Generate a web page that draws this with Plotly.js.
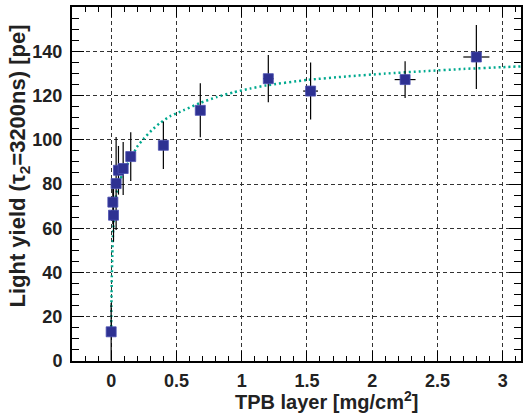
<!DOCTYPE html>
<html>
<head>
<meta charset="utf-8">
<script src="https://cdn.plot.ly/plotly-3.0.1.min.js"></script>
<style>
html,body{margin:0;padding:0;background:#fff;}
#chart{width:523px;height:415px;}
</style>
</head>
<body>
<div id="chart"></div>
<script>
// Measured points: TPB layer thickness [mg/cm2] vs light yield [pe]
const tpbLayer = [0, 0.013, 0.018, 0.038, 0.056, 0.092, 0.150, 0.400, 0.683, 1.204, 1.528, 2.252, 2.798];
const lightYield = [13.2, 71.8, 65.9, 80.2, 86.2, 87.0, 92.4, 97.5, 113.3, 127.6, 122.0, 127.2, 137.4];
const yieldErr = [13, 10, 12, 21, 11, 12, 11, 10.7, 12.2, 10.7, 12.9, 8.3, 14.5];
const layerErr = [0.003, 0.003, 0.003, 0.004, 0.005, 0.006, 0.008, 0.015, 0.025, 0.04, 0.057, 0.08, 0.1];

// Fit curve
const fitX = [0, 0.002, 0.005, 0.009, 0.013, 0.025, 0.036, 0.051, 0.069, 0.087, 0.12, 0.158, 0.197, 0.25, 0.311, 0.375, 0.451, 0.553, 0.681, 0.809, 0.936, 1.063, 1.191, 1.5, 1.8, 2.1, 2.4, 2.7, 3.0, 3.15];
const fitY = [13, 25, 38, 48, 56, 68.2, 74.2, 78.7, 81.7, 84.7, 88.5, 92.2, 96.7, 100.5, 104.3, 107.6, 110.6, 113.3, 116.6, 119.3, 121.4, 123.1, 124.6, 127.0, 128.6, 129.9, 131.0, 132.0, 132.8, 133.2];

// Axis tick values and labels
const xTickVals = [0, 0.5, 1, 1.5, 2, 2.5, 3];
const xTickText = ['0', '0.5', '1', '1.5', '2', '2.5', '3'];
const yTickVals = [0, 20, 40, 60, 80, 100, 120, 140];
const yTickText = ['0', '20', '40', '60', '80', '100', '120', '140'];

const FONT = 'Liberation Sans, Arial, Helvetica, sans-serif';

const traces = [
  {
    x: fitX, y: fitY, type: 'scatter', mode: 'lines',
    line: {color: '#00a98f', width: 2.5, dash: '2px,3px', shape: 'spline', smoothing: 0.6},
    hoverinfo: 'skip', showlegend: false
  },
  {
    x: tpbLayer, y: lightYield, type: 'scatter', mode: 'markers',
    marker: {symbol: 'square', size: 10, color: '#2e3192', line: {color: '#4a4fb0', width: 0.8}},
    error_y: {type: 'data', array: yieldErr, color: '#000', thickness: 1.2, width: 0},
    error_x: {type: 'data', array: layerErr, color: '#000', thickness: 1.2, width: 0},
    showlegend: false
  }
];

const axisCommon = {
  showline: true, linecolor: '#000', linewidth: 2, mirror: 'ticks',
  ticks: 'inside', tickcolor: '#000', tickwidth: 1,
  showgrid: true, gridcolor: '#333', gridwidth: 1, griddash: '4px,3px',
  zeroline: false,
  tickfont: {family: FONT, size: 18, color: '#222', weight: 'bold'}
};

const layout = {
  width: 523, height: 415,
  margin: {l: 72, r: 2, t: 7, b: 54},
  paper_bgcolor: '#fff', plot_bgcolor: '#fff',
  showlegend: false,
  xaxis: Object.assign({}, axisCommon, {
    range: [-0.3, 3.14], tickmode: 'array', tickvals: xTickVals, ticktext: xTickText,
    ticklen: 10, ticklabelstandoff: 2,
    minor: {dtick: 0.1, tick0: 0, ticklen: 5, ticks: 'inside', tickcolor: '#000', tickwidth: 1, showgrid: false},
    title: {text: ''}
  }),
  yaxis: Object.assign({}, axisCommon, {
    range: [0, 160], tickmode: 'array', tickvals: yTickVals, ticktext: yTickText,
    ticklen: 12, ticklabelstandoff: 4,
    minor: {dtick: 5, tick0: 0, ticklen: 7, ticks: 'inside', tickcolor: '#000', tickwidth: 1, showgrid: false},
    title: {text: ''}
  }),
  annotations: [
    {
      text: 'TPB layer [mg/cm<sup>2</sup>]', xref: 'paper', yref: 'paper',
      x: 0.774, y: 0, yshift: -25, xanchor: 'right', yanchor: 'top', showarrow: false,
      font: {family: FONT, size: 20, color: '#222', weight: 'bold'}
    },
    {
      text: 'Light yield (τ<sub>2</sub>=3200ns) [pe]', xref: 'paper', yref: 'paper',
      x: 0, xshift: -37, y: 0.144, xanchor: 'right', yanchor: 'bottom', textangle: -90,
      showarrow: false,
      font: {family: FONT, size: 22, color: '#222', weight: 'bold'}
    }
  ]
};

Plotly.newPlot('chart', traces, layout, {displayModeBar: false, staticPlot: true});
</script>
</body>
</html>
